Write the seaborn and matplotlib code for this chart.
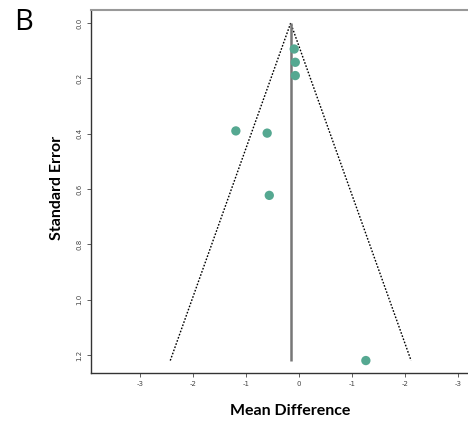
import numpy as np
import pandas as pd
import matplotlib
matplotlib.use("Agg")
import matplotlib.pyplot as plt
import seaborn as sns

# Data
mean_diff = [-0.09, -0.07, -0.07, -1.19, -0.60, -0.56, 1.26]
std_err = [0.094, 0.142, 0.190, 0.390, 0.398, 0.623, 1.220]
pooled = -0.157
z_value = 1.86
x_ticks = [-3, -2, -1, 0, 1, 2, 3]
x_tick_labels = ["-3", "-2", "-1", "0", "-1", "-2", "-3"]
y_ticks = [0.0, 0.2, 0.4, 0.6, 0.8, 1.0, 1.2]
y_tick_labels = ["0.0", "0.2", "0.4", "0.6", "0.8", "1.0", "1.2"]

sns.set_style("white")
plt.rcParams["font.family"] = ["DejaVu Sans"]

fig = plt.figure(figsize=(4.68, 4.26), dpi=100)
ax = fig.add_axes([91 / 468, 1 - 373 / 426, (507 - 91) / 468, (373 - 10) / 426])

se_max = max(std_err)
funnel = pd.DataFrame({
    "x": [pooled - z_value * se_max, pooled, pooled + z_value * se_max],
    "y": [se_max, 0.0, se_max],
})
ax.plot(funnel["x"], funnel["y"], linestyle=(0, (1.2, 1.2)), color="black", lw=1.0)
ax.plot([pooled, pooled], [0.0, se_max], color="#777777", lw=1.8, solid_capstyle="butt")

df = pd.DataFrame({"md": mean_diff, "se": std_err})
sns.scatterplot(data=df, x="md", y="se", ax=ax, color="#55a891", s=45,
                edgecolor="none", zorder=5, legend=False)

ax.set_xlim(-3.92, 3.92)
ax.set_ylim(1.265, -0.047)
ax.set_xticks(x_ticks)
ax.set_xticklabels(x_tick_labels, fontsize=5, color="#444444")
ax.set_yticks(y_ticks)
ax.set_yticklabels(y_tick_labels, fontsize=5, color="#444444", rotation=90, va="center")
ax.tick_params(axis="both", direction="out", length=3, width=0.6, color="#444444", pad=3,
               left=True, bottom=True)
ax.set_xlabel("")
ax.set_ylabel("")

for side in ["left", "bottom"]:
    ax.spines[side].set_color("#333333")
    ax.spines[side].set_linewidth(1.0)
ax.spines["top"].set_color("#999999")
ax.spines["top"].set_linewidth(1.5)
ax.spines["right"].set_visible(False)

fig.text(290 / 468, 1 - 411 / 426, "Mean Difference", ha="center", va="center",
         fontsize=11.5, fontweight="bold", family="Lato", color="black")
fig.text(57 / 468, 1 - 188 / 426, "Standard Error", ha="center", va="center",
         rotation=90, fontsize=11.5, fontweight="bold", family="Lato", color="black")
fig.text(24 / 468, 1 - 22 / 426, "B", ha="center", va="center", fontsize=21,
         family="Open Sans", color="black")

fig.savefig("out.png", dpi=100)
